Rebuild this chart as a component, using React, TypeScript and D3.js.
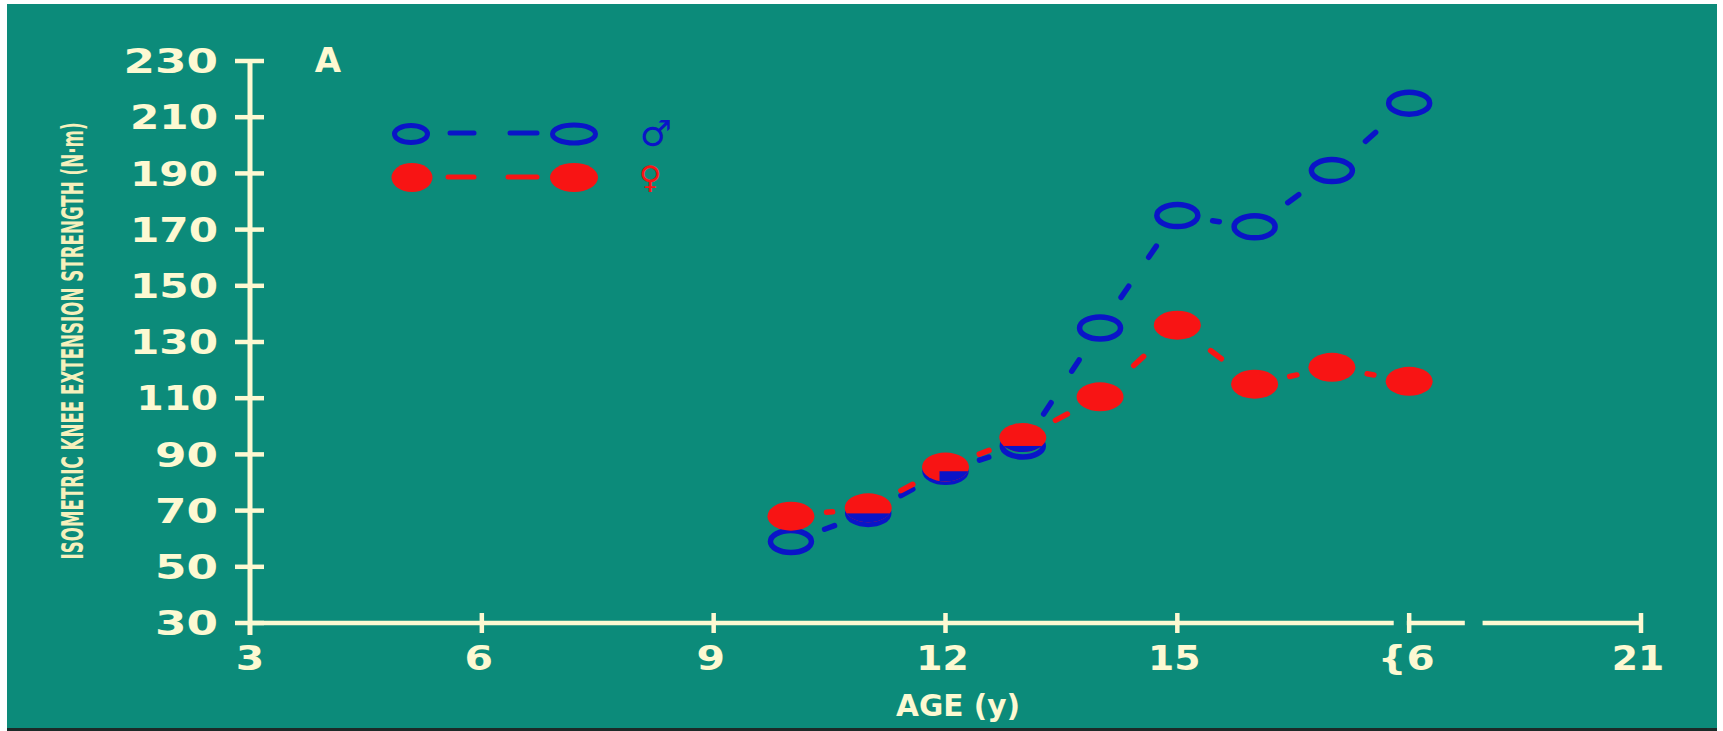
import React, { useLayoutEffect, useRef, useState } from "react";
import * as d3 from "d3";

// Isometric knee extension strength by age, boys vs girls
const ages = [10, 11, 12, 13, 14, 15, 16, 17, 18];
const maleStrength = [59, 69, 84, 93, 135, 175, 171, 191, 215];
const femaleStrength = [68, 71, 85.5, 96, 110.5, 136, 115, 121, 116];

const xTickValues = [3, 6, 9, 12, 15, 18, 21];
const xTickLabels = ["3", "6", "9", "12", "15", "{6", "21"];
const yTickValues = [30, 50, 70, 90, 110, 130, 150, 170, 190, 210, 230];
const yTickLabels = ["30", "50", "70", "90", "110", "130", "150", "170", "190", "210", "230"];

// ages where the overlapping boys' marker only tints the lower-right quarter of the girls' disk
const quarterTintAges = [12];

const W = 1723;
const H = 731;
const BG = "#0c8b7a";
const INK = "#fdf9d2";
const BLUE = "#0a14c8";
const RED = "#f81414";
const FONT = "'DejaVu Sans', Verdana, sans-serif";

const x = d3.scaleLinear().domain([3, 21]).range([250, 1641]);
const y = d3.scaleLinear().domain([30, 230]).range([623, 61]);

const BLUE_RX = 20.5;
const BLUE_RY = 11;
const BLUE_SW = 5.5;
const RED_RX = 23.5;
const RED_RY = 14.5;
const DASH_W = 5.5;
const DASH_LEN = 19;

const Y_TITLE = "ISOMETRIC KNEE EXTENSION STRENGTH (N·m)";
const Y_TITLE_LEN = 437;

type Seg = { x1: number; y1: number; x2: number; y2: number };

// dashes between consecutive markers, kept clear of the marker outlines
function dashes(pts: [number, number][], rx: number, ry: number): Seg[] {
  const out: Seg[] = [];
  for (let i = 0; i < pts.length - 1; i++) {
    const [ax, ay] = pts[i];
    const [bx, by] = pts[i + 1];
    const dx = bx - ax;
    const dy = by - ay;
    const len = Math.hypot(dx, dy);
    const ux = dx / len;
    const uy = dy / len;
    const edge = 1 / Math.sqrt((ux / rx) ** 2 + (uy / ry) ** 2) + 4;
    const vis = len - 2 * edge;
    if (vis <= 6) continue;
    const n = Math.max(1, Math.floor(vis / 48));
    const core = Math.min(DASH_LEN, vis / (2 * n)) - DASH_W;
    for (let k = 0; k < n; k++) {
      const c = edge + (vis * (k + 0.5)) / n;
      const h = Math.max(core, 1) / 2;
      out.push({
        x1: ax + ux * (c - h),
        y1: ay + uy * (c - h),
        x2: ax + ux * (c + h),
        y2: ay + uy * (c + h),
      });
    }
  }
  return out;
}

function labelWidth(s: string, wide: number, narrow: number) {
  let w = 0;
  for (const ch of s) w += ch === "1" ? narrow : wide;
  return w;
}

export default function App() {
  const titleRef = useRef<SVGTextElement>(null);
  const [titleScale, setTitleScale] = useState(0.6);

  // squeeze the vertical axis title along its baseline to the axis height
  useLayoutEffect(() => {
    const el = titleRef.current;
    if (!el) return;
    const natural = el.getComputedTextLength();
    if (natural > 0) setTitleScale(Y_TITLE_LEN / natural);
  }, []);

  const malePts: [number, number][] = ages.map((a, i) => [x(a), y(maleStrength[i])]);
  const femalePts: [number, number][] = ages.map((a, i) => [x(a), y(femaleStrength[i])]);
  const blueDashes = dashes(malePts, BLUE_RX + BLUE_SW / 2, BLUE_RY + BLUE_SW / 2);
  const redDashes = dashes(femalePts, RED_RX, RED_RY);

  const x0 = x(3);
  const yBase = y(30);
  const yTop = y(230);

  // axis line with the small breaks around the 18-year tick
  const xAxisPieces: [number, number][] = [
    [3, 17.8],
    [17.97, 18.72],
    [18.95, 21],
  ];

  return (
    <svg
      width={W}
      height={H}
      style={{ position: "absolute", left: 0, top: 0, background: "#ffffff" }}
      fontFamily={FONT}
    >
      <rect x={7} y={4} width={1710} height={724} fill={BG} />
      <rect x={7} y={728} width={1710} height={3} fill="#1c2a28" />

      <defs>
        {femalePts.map(([cx, cy], i) => (
          <clipPath id={`disk-${i}`} key={i}>
            <ellipse cx={cx} cy={cy} rx={RED_RX} ry={RED_RY} />
          </clipPath>
        ))}
      </defs>

      {/* y axis */}
      <line x1={x0} x2={x0} y1={yTop} y2={yBase + 12} stroke={INK} strokeWidth={5} />
      {yTickValues.map((v, i) => (
        <g key={v}>
          <line x1={x0 - 15} x2={x0 + 14} y1={y(v)} y2={y(v)} stroke={INK} strokeWidth={4.5} />
          <text
            x={218}
            y={y(v)}
            dy="0.36em"
            textAnchor="end"
            fontSize={34}
            fontWeight="bold"
            fill={INK}
            textLength={labelWidth(yTickLabels[i], 31.5, 25)}
            lengthAdjust="spacingAndGlyphs"
          >
            {yTickLabels[i]}
          </text>
        </g>
      ))}

      {/* x axis */}
      {xAxisPieces.map(([a, b], i) => (
        <line key={i} x1={x(a)} x2={x(b)} y1={yBase} y2={yBase} stroke={INK} strokeWidth={4.5} />
      ))}
      {xTickValues.map((v, i) => (
        <g key={v}>
          {v !== 3 && (
            <line x1={x(v)} x2={x(v)} y1={yBase - 10} y2={yBase + 10} stroke={INK} strokeWidth={4.5} />
          )}
          <text
            x={x(v) - (v === 3 ? 0 : 3)}
            y={670}
            textAnchor="middle"
            fontSize={33}
            fontWeight="bold"
            fill={INK}
            textLength={labelWidth(xTickLabels[i], 28.5, 24)}
            lengthAdjust="spacingAndGlyphs"
          >
            {xTickLabels[i]}
          </text>
        </g>
      ))}

      {/* axis titles */}
      <text
        x={958}
        y={716}
        textAnchor="middle"
        fontSize={30}
        fontWeight="bold"
        fill={INK}
        textLength={124}
        lengthAdjust="spacingAndGlyphs"
      >
        AGE (y)
      </text>
      <g transform={`translate(83,341) rotate(-90) scale(${titleScale},1)`}>
        <text ref={titleRef} x={0} y={0} textAnchor="middle" fontSize={30} fontWeight="bold" fill="#f6f0bc">
          {Y_TITLE}
        </text>
      </g>

      {/* panel letter */}
      <text x={328} y={72} textAnchor="middle" fontSize={34} fontWeight="bold" fill={INK}>
        A
      </text>

      {/* legend */}
      <g>
        <ellipse cx={411} cy={134} rx={16.5} ry={8.5} fill="none" stroke={BLUE} strokeWidth={5} />
        <line x1={450} x2={474} y1={133} y2={133} stroke={BLUE} strokeWidth={5} strokeLinecap="round" />
        <line x1={510} x2={537} y1={133} y2={133} stroke={BLUE} strokeWidth={5} strokeLinecap="round" />
        <ellipse cx={574} cy={134} rx={21.5} ry={9} fill="none" stroke={BLUE} strokeWidth={5} />
        <text x={656} y={146} textAnchor="middle" fontSize={36} fontWeight="bold" fill={BLUE}>
          ♂
        </text>

        <ellipse cx={412} cy={177.5} rx={20.5} ry={14.5} fill={RED} />
        <line x1={448} x2={474} y1={177} y2={177} stroke={RED} strokeWidth={5} strokeLinecap="round" />
        <line x1={508} x2={537} y1={177} y2={177} stroke={RED} strokeWidth={5} strokeLinecap="round" />
        <ellipse cx={574} cy={177.5} rx={24} ry={14.5} fill={RED} />
        <text x={650} y={188} textAnchor="middle" fontSize={31} fontWeight="bold" fill={RED}>
          ♀
        </text>
      </g>

      {/* boys */}
      {blueDashes.map((s, i) => (
        <line key={`bd${i}`} {...s} stroke={BLUE} strokeWidth={DASH_W} strokeLinecap="round" />
      ))}
      {malePts.map(([cx, cy], i) => (
        <ellipse
          key={`bm${i}`}
          cx={cx}
          cy={cy}
          rx={BLUE_RX}
          ry={BLUE_RY}
          fill="none"
          stroke={BLUE}
          strokeWidth={BLUE_SW}
        />
      ))}

      {/* girls */}
      {redDashes.map((s, i) => (
        <line key={`rd${i}`} {...s} stroke={RED} strokeWidth={DASH_W} strokeLinecap="round" />
      ))}
      {femalePts.map(([cx, cy], i) => (
        <ellipse key={`rm${i}`} cx={cx} cy={cy} rx={RED_RX} ry={RED_RY} fill={RED} />
      ))}

      {/* where a boys' marker sits inside a girls' disk, its lower part shows through in blue */}
      {femalePts.map(([cx, cy], i) => {
        const by = malePts[i][1];
        if (by <= cy || by - cy > RED_RY - 2) return null;
        const quarter = quarterTintAges.includes(ages[i]);
        const left = quarter ? cx - 6 : cx - RED_RX;
        return (
          <rect
            key={`tint${i}`}
            x={left}
            y={by}
            width={cx + RED_RX - left}
            height={cy + RED_RY - by}
            fill={BLUE}
            clipPath={`url(#disk-${i})`}
          />
        );
      })}
    </svg>
  );
}
